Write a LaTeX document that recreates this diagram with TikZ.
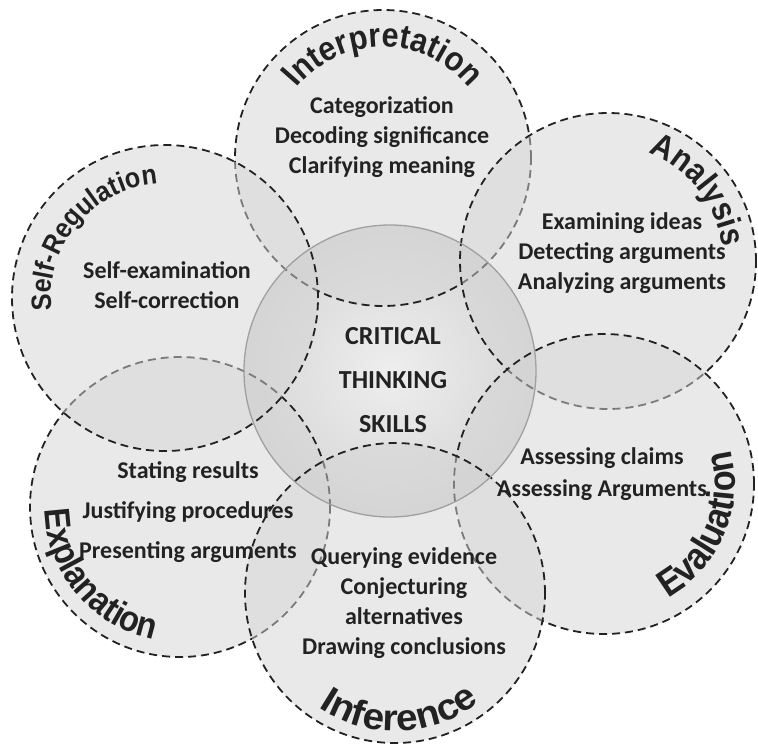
\documentclass[tikz,border=0pt]{standalone}
\usepackage{fontspec}
\setmainfont{Carlito}
\newfontfamily\titlefont{Liberation Sans}[FakeStretch=0.9, UprightFont=*, BoldFont=* Bold]
\newfontfamily\titlefontwide{Liberation Sans}[FakeStretch=1.05, UprightFont=*, BoldFont=* Bold]
\usetikzlibrary{decorations.text,calc}

\definecolor{inkdark}{HTML}{222222}
\definecolor{ringfill}{HTML}{D4D4D4}
\definecolor{hubin}{HTML}{EEEEEE}
\definecolor{hubmid}{HTML}{D6D6D6}
\definecolor{hubout}{HTML}{A6A6A6}
\definecolor{hubrim}{HTML}{A0A0A0}
\pgfdeclareradialshading{hubshade}{\pgfpointorigin}{color(0bp)=(hubin); color(26bp)=(hubmid); color(50bp)=(hubout)}

\tikzset{
  skillring/.style={circle, inner sep=0pt, minimum size=#1, draw=inkdark,
    line width=1.8pt, dash pattern=on 8pt off 5pt,
    fill=ringfill, fill opacity=0.5, draw opacity=1},
  itemtext/.style={align=center, text=inkdark,
    font=\fontsize{24}{30}\selectfont\bfseries},
  hubtext/.style={align=center, text=inkdark,
    font=\fontsize{26}{44}\selectfont\bfseries},
  arcsign/.style={decorate, decoration={text along path, text align=center,
    text color=inkdark, text={#1}}}
}

\begin{document}
\begin{tikzpicture}[x=1pt, y=1pt]
  \useasboundingbox (0,0) rectangle (758,-747);

  % central hub
  \coordinate (hub) at (390,-371);
  \shade[shading=hubshade] (hub) circle[radius=146];

  % six skill circles, layered back to front
  \node[skillring=296pt] (interp) at (383,-158) {};
  \node[skillring=300pt] (explan) at (180,-507) {};
  \node[skillring=306pt] (selfreg) at (165,-298) {};
  \node[skillring=296pt] (analys) at (608,-261) {};
  \node[skillring=300pt] (evalu) at (604,-484) {};
  \node[skillring=300pt] (infer) at (395,-593) {};

  % hub rim
  \draw[hubrim, line width=1.3pt] (hub) circle[radius=146];

  % centre title
  \node[hubtext] (core) at (393,-380) {CRITICAL\\THINKING\\SKILLS};

  % skill items
  \node[itemtext] (interpitems) at (382,-137) {Categorization\\Decoding significance\\Clarifying meaning};
  \node[itemtext] (selfitems) at (167,-285) {Self-examination\\Self-correction};
  \node[itemtext] (analysitems) at (622,-253) {Examining ideas\\Detecting arguments\\Analyzing arguments};
  \node[itemtext, font=\fontsize{24}{32}\selectfont\bfseries] (evalitems) at (602,-474) {Assessing claims\\Assessing Arguments};
  \node[itemtext, font=\fontsize{24}{40}\selectfont\bfseries] (explitems) at (188,-512) {Stating results\\Justifying procedures\\Presenting arguments};
  \node[itemtext] (inferitems) at (404,-603) {Querying evidence\\Conjecturing\\alternatives\\Drawing conclusions};

  % curved skill names
  \path[arcsign={|\titlefont\bfseries\fontsize{34}{34}\selectfont|Interpretation}]
    ($(interp)+(180:111)$) arc[start angle=180, end angle=0, radius=111];
  \path[arcsign={|\titlefont\bfseries\fontsize{28}{28}\selectfont|Self-Regulation}]
    ($(selfreg)+(230:114)$) arc[start angle=230, end angle=50, radius=114];
  \path[arcsign={|\titlefont\bfseries\fontsize{34}{34}\selectfont|Analysis}]
    ($(analys)+(128:115)$) arc[start angle=128, end angle=-52, radius=115];
  \path[arcsign={|\titlefont\bfseries\fontsize{38}{38}\selectfont|Evaluation}]
    ($(evalu)+(-113:131)$) arc[start angle=-113, end angle=67, radius=131];
  \path[arcsign={|\titlefontwide\bfseries\fontsize{37}{37}\selectfont|Inference}]
    ($(infer)+(182:138)$) arc[start angle=182, end angle=362, radius=138];
  \path[arcsign={|\titlefont\bfseries\fontsize{36}{36}\selectfont|Explanation}]
    ($(explan)+(130:135)$) arc[start angle=130, end angle=310, radius=135];
\end{tikzpicture}
\end{document}
